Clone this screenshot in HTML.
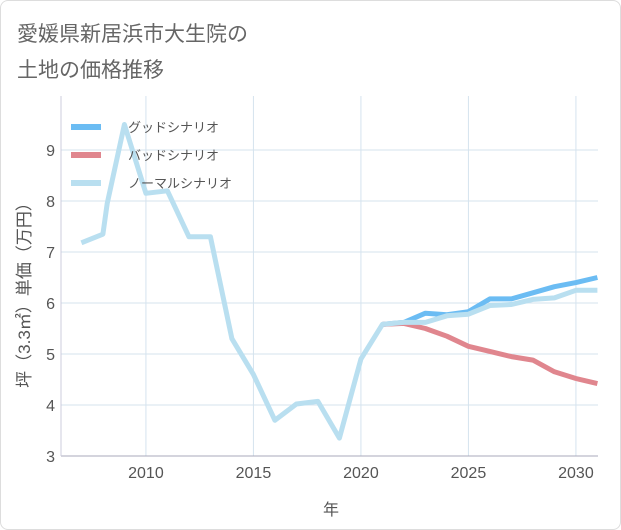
<!DOCTYPE html>
<html><head><meta charset="utf-8"><style>
body{margin:0;background:#fff;font-family:"Liberation Sans","Noto Sans CJK JP",sans-serif;}
#wrap{position:relative;width:619px;height:528px;border:1px solid #ddd;border-radius:8px;overflow:hidden;}
</style></head><body>
<div id="wrap">
<svg id="chart" width="619" height="528">
<text x="16" y="40" font-size="21" fill="#666">愛媛県新居浜市大生院の</text>
<text x="16" y="76" font-size="21" fill="#666">土地の価格推移</text>
<g id="grid"></g><g id="axes"></g><g id="series"></g>
<text x="330" y="514" font-size="16" fill="#555" text-anchor="middle">年</text>
<text transform="translate(29,290) rotate(-90)" font-size="17" fill="#555" text-anchor="middle">坪（3.3㎡）単価（万円）</text>
<g>
<line x1="70" y1="126" x2="100" y2="126" stroke="#6bbcf3" stroke-width="6"/>
<text x="127" y="131" font-size="13" fill="#555">グッドシナリオ</text>
<line x1="70" y1="154" x2="100" y2="154" stroke="#e0868e" stroke-width="6"/>
<text x="127" y="159" font-size="13" fill="#555">バッドシナリオ</text>
<line x1="70" y1="182" x2="100" y2="182" stroke="#b9dff0" stroke-width="6"/>
<text x="127" y="187" font-size="13" fill="#555">ノーマルシナリオ</text>
</g>
</svg>
</div>
<script>
const normalYears=[2007,2008,2008.2,2009,2010,2011,2012,2013,2014,2015,2016,2017,2018,2019,2020,2021,2022,2023,2024,2025,2026,2027,2028,2029,2030,2031];
const normalValues=[7.18,7.35,7.95,9.5,8.15,8.2,7.3,7.3,5.3,4.6,3.7,4.02,4.07,3.35,4.9,5.58,5.62,5.62,5.75,5.78,5.95,5.97,6.07,6.1,6.25,6.25];
const futureYears=[2021,2022,2023,2024,2025,2026,2027,2028,2029,2030,2031];
const goodValues=[5.58,5.62,5.8,5.77,5.83,6.08,6.08,6.2,6.32,6.4,6.5];
const badValues=[5.58,5.6,5.5,5.35,5.15,5.05,4.95,4.88,4.65,4.52,4.42];
const yTicks=[3,4,5,6,7,8,9];
const xTicks=[2010,2015,2020,2025,2030];
const NS="http://www.w3.org/2000/svg";
const X0=60,X1=597,Y0=455,Y1=95;
const xs=v=>X0+(v-2006.05)*(575-145)/20;
const ys=v=>Y0-(v-3)*51;
function mk(tag,attrs,parent){const e=document.createElementNS(NS,tag);for(const k in attrs)e.setAttribute(k,attrs[k]);parent.appendChild(e);return e;}
const grid=document.getElementById('grid'),axes=document.getElementById('axes'),ser=document.getElementById('series');
yTicks.forEach(t=>{
 const l=mk('line',{x1:X0,x2:X1,y1:ys(t),y2:ys(t),stroke:'#d5e3ee','stroke-width':1},grid);
 
 
 const tx=mk('text',{x:X0-6,y:ys(t)+6,'font-size':16,fill:'#555','text-anchor':'end'},axes);
 tx.textContent=t;
 
 
});
xTicks.forEach(t=>{
 const l=mk('line',{x1:xs(t),x2:xs(t),y1:Y1,y2:Y0,stroke:'#d5e3ee','stroke-width':1},grid);
 
 
 const tx=mk('text',{x:xs(t),y:Y0+22,'font-size':16,fill:'#555','text-anchor':'middle'},axes);
 tx.textContent=t;
 
 
});
const ax=mk('line',{x1:X0,x2:X1,y1:Y0,y2:Y0,stroke:'#aab','stroke-width':1},axes);


const ay=mk('line',{x1:X0,x2:X0,y1:Y1,y2:Y0,stroke:'#ccd','stroke-width':1},axes);


function line(xsArr,vals,color,name){
 const d=xsArr.map((x,i)=>(i?'L':'M')+xs(x).toFixed(1)+','+ys(vals[i]).toFixed(1)).join('');
 const p=mk('path',{d:d,fill:'none',stroke:color,'stroke-width':5,'stroke-linejoin':'round'},ser);
 
 
}
line(futureYears,goodValues,'#6bbcf3','good-scenario-line');
line(futureYears,badValues,'#e0868e','bad-scenario-line');
line(normalYears,normalValues,'#b9dff0','normal-scenario-line');
</script>
</body></html>
